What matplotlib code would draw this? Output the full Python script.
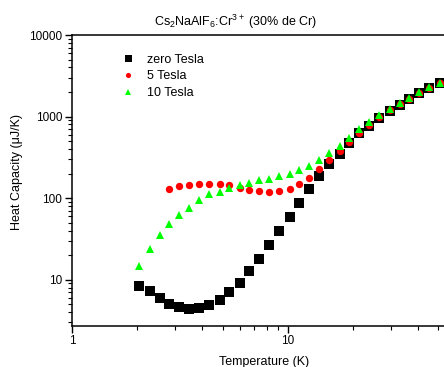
import matplotlib
matplotlib.use('Agg')
import matplotlib.pyplot as plt
from matplotlib.ticker import LogLocator, NullFormatter, FixedLocator, FixedFormatter

plt.rcParams['font.family'] = ['Liberation Sans', 'DejaVu Sans']
plt.rcParams['mathtext.default'] = 'regular'

# temperature (K), same grid for all three runs
temp = [2.05, 2.29, 2.55, 2.83, 3.15, 3.5, 3.9, 4.34, 4.83, 5.37, 5.98,
        6.65, 7.4, 8.23, 9.16, 10.2, 11.3, 12.6, 14.0, 15.6, 17.4, 19.3,
        21.5, 23.9, 26.6, 29.7, 33.0, 36.7, 40.8, 45.4, 50.6]

# heat capacity (uJ/K)
c_zero = [8.5, 7.2, 5.9, 5.1, 4.7, 4.4, 4.5, 4.9, 5.7, 7.0, 9.2,
          12.7, 17.9, 26.3, 39.4, 58.6, 87.5, 128, 185, 260, 352, 475,
          625, 775, 965, 1160, 1390, 1650, 1940, 2240, 2550]
c_5T = [131, 140, 147, 151, 151, 148, 144, 133,
        127, 122, 120, 121, 128, 148, 179, 226, 291, 379, 489,
        631, 783, 990, 1190, 1410, 1660, 1950, 2250, 2560]
temp_5T = temp[3:]
c_10T = [14.6, 24.0, 34.9, 47.7, 61.5, 76.4, 93.9, 111, 119, 135, 147,
         155, 165, 174, 185, 200, 220, 251, 297, 358, 436, 543,
         695, 847, 1033, 1225, 1449, 1698, 1995, 2297, 2608]

series_labels = ['zero Tesla', '5 Tesla', '10 Tesla']

fig = plt.figure(figsize=(4.44, 3.67), dpi=100)
ax = fig.add_axes([72 / 444, 1 - 325.5 / 367, (455.5 - 72) / 444, (325.5 - 35) / 367])

ax.plot(temp, c_zero, 's', color='black', ms=7.2, mew=0, label=series_labels[0])
ax.plot(temp_5T, c_5T, 'o', color='#ff0000', ms=5.3, mew=0, label=series_labels[1])
ax.plot(temp, c_10T, '^', color='#00ff00', ms=6.0, mew=0, label=series_labels[2])

ax.set_xscale('log')
ax.set_yscale('log')
ax.set_xlim(1, 60)
ax.set_ylim(2.75, 10000)

ax.xaxis.set_major_locator(FixedLocator([1, 10]))
ax.xaxis.set_major_formatter(FixedFormatter(['1', '10']))
ax.xaxis.set_minor_locator(LogLocator(base=10, subs=range(2, 10), numticks=20))
ax.xaxis.set_minor_formatter(NullFormatter())
ax.yaxis.set_major_locator(FixedLocator([10, 100, 1000, 10000]))
ax.yaxis.set_major_formatter(FixedFormatter(['10', '100', '1000', '10000']))
ax.yaxis.set_minor_locator(LogLocator(base=10, subs=range(2, 10), numticks=20))
ax.yaxis.set_minor_formatter(NullFormatter())

ax.tick_params(which='major', direction='out', length=5, width=1, labelsize=8.5, pad=2)
ax.tick_params(which='minor', direction='out', length=3, width=0.8)
for s in ['left', 'bottom', 'top']:
    ax.spines[s].set_linewidth(1.1)
ax.spines['right'].set_visible(False)

leg = ax.legend(loc='upper left', bbox_to_anchor=(0.10, 0.975), frameon=False,
                fontsize=9, markerscale=0.7, handlelength=1.0, handletextpad=1.0,
                labelspacing=0.38)

fig.text(236 / 444, 1 - 22 / 367, r'Cs$_2$NaAlF$_6$:Cr$^{3+}$ (30% de Cr)',
         ha='center', va='center', fontsize=9)
fig.text(17 / 444, 1 - 172 / 367, 'Heat Capacity (\u03bcJ/K)', rotation=90,
         ha='center', va='center', fontsize=9)
fig.text(264 / 444, 1 - 356 / 367, 'Temperature (K)', ha='center', va='top', fontsize=9)

fig.savefig('out.png', dpi=100)
